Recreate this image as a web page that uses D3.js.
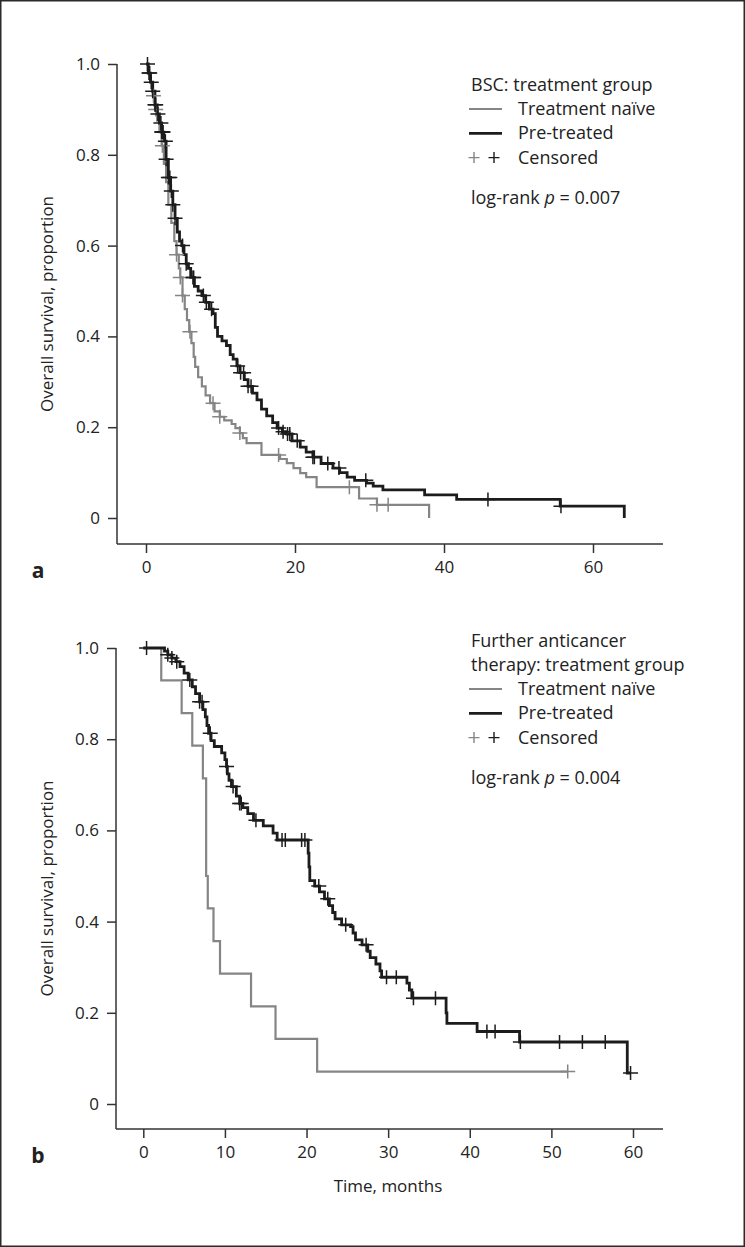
<!DOCTYPE html>
<html><head><meta charset="utf-8">
<script src="https://cdn.jsdelivr.net/npm/d3@7"></script>
<style>body{margin:0;background:#fff}svg{display:block}text{font-family:"Open Sans","Noto Sans",sans-serif;fill:#222}</style>
</head><body>
<script>
// ---------- DATA ----------
const yTicks = [0, 0.2, 0.4, 0.6, 0.8, 1.0];
const yTickLabels = ["0", "0.2", "0.4", "0.6", "0.8", "1.0"];
const aXTicks = [0, 20, 40, 60];
const bXTicks = [0, 10, 20, 30, 40, 50, 60];

// Panel a: BSC
const aNaiveCurve = [[0,1],[0.3,0.98],[0.6,0.96],[0.9,0.93],[1.2,0.9],[1.5,0.875],[1.8,0.85],[2.1,0.82],[2.4,0.78],[2.7,0.74],[3.0,0.69],[3.4,0.65],[3.8,0.61],[4.1,0.58],[4.4,0.55],[4.6,0.53],[4.9,0.49],[5.2,0.46],[5.5,0.436],[5.8,0.41],[6.1,0.385],[6.4,0.355],[6.6,0.333],[7.0,0.31],[7.5,0.29],[8.0,0.27],[8.6,0.253],[9.2,0.235],[9.9,0.223],[10.5,0.215],[11.5,0.207],[12.0,0.198],[12.6,0.187],[13.0,0.176],[13.5,0.165],[15.5,0.139],[18.0,0.13],[18.9,0.121],[19.8,0.11],[20.7,0.099],[21.5,0.09],[22.9,0.068],[28.6,0.043],[31.0,0.029],[38.0,0]];
const aNaiveCensor = [1.0,1.3,2.2,4.1,4.6,4.9,5.9,9.0,9.9,12.6,17.8,27.3,31.0,32.5];
const aPreCurve = [[0,1],[0.3,0.98],[0.6,0.96],[0.9,0.94],[1.2,0.91],[1.5,0.89],[1.8,0.87],[2.1,0.85],[2.4,0.83],[2.7,0.79],[3.0,0.75],[3.3,0.72],[3.6,0.69],[3.9,0.66],[4.2,0.63],[4.5,0.61],[4.8,0.6],[5.1,0.58],[5.4,0.56],[5.7,0.55],[6.0,0.53],[6.5,0.51],[7.0,0.5],[7.5,0.49],[8.0,0.475],[8.5,0.46],[9.0,0.45],[9.3,0.42],[9.6,0.4],[10.2,0.39],[10.8,0.38],[11.3,0.36],[11.7,0.35],[12.2,0.335],[12.6,0.32],[13.2,0.305],[13.7,0.29],[14.3,0.275],[14.9,0.26],[15.5,0.24],[16.2,0.225],[17.0,0.21],[17.6,0.198],[18.3,0.19],[18.9,0.185],[19.6,0.17],[20.7,0.156],[21.5,0.145],[22.4,0.134],[23.5,0.12],[25.1,0.11],[26.0,0.1],[27.0,0.09],[28.0,0.083],[29.6,0.077],[30.5,0.07],[31.8,0.062],[37.4,0.051],[41.7,0.041],[55.6,0.026],[64.2,0]];
const aPreCensor = [0.2,0.4,0.5,0.7,0.9,1.2,1.3,1.6,2.0,2.1,2.2,2.3,2.6,2.7,3.0,3.2,3.4,3.6,3.9,4.9,5.4,6.3,6.4,7.7,8.1,8.8,12.3,12.7,13.1,13.7,14.1,17.8,18.4,19.0,19.3,20.3,22.4,22.6,24.4,25.9,29.5,45.9,55.7];

// Panel b: Further anticancer therapy
const bNaiveCurve = [[0,1],[2.2,0.929],[4.7,0.857],[6.0,0.786],[7.3,0.714],[7.7,0.5],[7.9,0.429],[8.6,0.357],[9.4,0.286],[13.2,0.214],[16.2,0.143],[21.3,0.071],[52.0,0.071]];
const bNaiveCensor = [52.0];
const bPreCurve = [[0,1],[2.6,0.993],[3.0,0.985],[3.5,0.978],[4.0,0.97],[4.5,0.959],[5.0,0.945],[5.5,0.93],[6.0,0.915],[6.4,0.9],[6.9,0.882],[7.3,0.865],[7.6,0.849],[7.8,0.83],[8.0,0.813],[8.3,0.797],[8.7,0.784],[9.6,0.77],[10.0,0.755],[10.2,0.74],[10.3,0.724],[10.5,0.71],[10.8,0.696],[11.4,0.675],[11.8,0.659],[12.2,0.65],[12.8,0.637],[13.5,0.622],[14.7,0.61],[15.9,0.594],[16.4,0.579],[20.2,0.55],[20.3,0.52],[20.4,0.49],[21.0,0.478],[21.6,0.465],[22.2,0.45],[22.8,0.435],[23.2,0.42],[23.5,0.406],[24.3,0.393],[25.4,0.389],[25.7,0.375],[26.0,0.36],[26.8,0.349],[27.5,0.335],[27.8,0.321],[28.5,0.307],[29.0,0.292],[29.2,0.278],[32.3,0.265],[32.6,0.25],[32.9,0.232],[37.1,0.2],[37.2,0.177],[40.9,0.159],[46.1,0.136],[59.3,0.068],[59.7,0.068]];
const bPreCensor = [0.4,3.0,3.5,4.1,5.7,6.9,7.2,8.2,10.2,11.0,11.8,12.0,13.8,17.0,17.4,19.4,19.8,21.5,22.6,24.8,27.3,29.8,31.0,33.1,35.8,42.1,43.1,46.2,51.0,53.8,56.6,59.7];

const legendA = ["BSC: treatment group"];
const legendB = ["Further anticancer", "therapy: treatment group"];
const seriesNames = ["Treatment naïve", "Pre-treated", "Censored"];
const pA = "0.007", pB = "0.004";

// ---------- DRAW ----------
const W = 745, H = 1247;
const GRAY = "#858585", BLACK = "#1c1c1c", AX = "#333";
const svg = d3.select("body").append("svg").attr("width", W).attr("height", H);
svg.append("rect").attr("x",0.75).attr("y",0.75).attr("width",W-1.5).attr("height",H-1.5)
  .attr("fill","#fff").attr("stroke","#2a2a2a").attr("stroke-width",1.5);

function survAt(curve, t) {
  let s = curve[0][1];
  for (const p of curve) { if (p[0] <= t) s = p[1]; else break; }
  return s;
}

function panel(cfg) {
  const x = d3.scaleLinear().domain([0, 60]).range(cfg.xr);
  const y = d3.scaleLinear().domain([0, 1]).range(cfg.yr);
  const g = svg.append("g");
  // y axis
  const ya = g.append("g").attr("transform", `translate(${cfg.ax},0)`)
    .call(d3.axisLeft(y).tickValues(yTicks).tickFormat((d,i)=>yTickLabels[i]).tickSize(9).tickPadding(8));
  ya.select(".domain").remove();
  g.append("line").attr("x1",cfg.ax).attr("x2",cfg.ax).attr("y1",y(1)).attr("y2",cfg.ay).attr("stroke",AX).attr("stroke-width",1.5);
  // x axis
  const xa = g.append("g").attr("transform", `translate(0,${cfg.ay})`)
    .call(d3.axisBottom(x).tickValues(cfg.xt).tickFormat(d3.format("d")).tickSize(9).tickPadding(8));
  xa.select(".domain").remove();
  g.append("line").attr("x1",cfg.ax).attr("x2",663).attr("y1",cfg.ay).attr("y2",cfg.ay).attr("stroke",AX).attr("stroke-width",1.5);
  g.selectAll(".tick line").attr("stroke",AX).attr("stroke-width",1.5);
  g.selectAll(".tick text").attr("font-size",17).attr("fill","#222").attr("font-family",'"Open Sans","Noto Sans",sans-serif');
  // y title
  g.append("text").attr("transform",`translate(53,${(y(1)+cfg.ay)/2}) rotate(-90)`).attr("text-anchor","middle")
    .attr("font-size",17).text("Overall survival, proportion");
  // panel letter
  g.append("text").attr("x",38).attr("y",cfg.ay+34).attr("text-anchor","middle").attr("font-size",21).attr("font-weight","bold").text(cfg.letter);
  const line = d3.line().x(d=>x(d[0])).y(d=>y(d[1])).curve(d3.curveStepAfter);
  const series = [[cfg.naive, cfg.naiveC, GRAY, 2.2], [cfg.pre, cfg.preC, BLACK, 2.8]];
  series.forEach(([curve, cens, col, w]) => {
    g.append("path").attr("d", line(curve)).attr("fill","none").attr("stroke",col).attr("stroke-width",w);
  });
  series.forEach(([curve, cens, col]) => {
    g.selectAll(null).data(cens).enter().append("path")
      .attr("d", t => { const cx = x(t), cy = y(survAt(curve, t)); return `M${cx-7.5},${cy}H${cx+7.5}M${cx},${cy-7}V${cy+7}`; })
      .attr("stroke", col).attr("stroke-width", 1.5).attr("fill","none");
  });
  // legend
  const lx = 471;
  let yy = cfg.ly;
  cfg.title.forEach(t => { g.append("text").attr("x",lx).attr("y",yy).attr("font-size",18).text(t); yy += 24; });
  const rows = [[GRAY, "line"], [BLACK, "line"], [null, "cens"]];
  rows.forEach((r, i) => {
    const by = yy;
    if (r[1] === "line") {
      g.append("line").attr("x1",lx-2).attr("x2",lx+31).attr("y1",by-6).attr("y2",by-6).attr("stroke",r[0]).attr("stroke-width",i===0?2.2:2.8);
    } else {
      [[lx+3, GRAY],[lx+23, BLACK]].forEach(([cx,col]) => {
        g.append("path").attr("d",`M${cx-5.5},${by-6}H${cx+5.5}M${cx},${by-11.5}V${by-0.5}`).attr("stroke",col).attr("stroke-width",1.4);
      });
    }
    g.append("text").attr("x",lx+47).attr("y",by).attr("font-size",18).text(seriesNames[i]);
    yy += 24.3;
  });
  const pt = g.append("text").attr("x",lx).attr("y",yy+16).attr("font-size",18);
  pt.append("tspan").text("log-rank ");
  pt.append("tspan").attr("font-style","italic").text("p");
  pt.append("tspan").text(" = " + cfg.p);
  if (cfg.xlabel) g.append("text").attr("x",388).attr("y",cfg.ay+63).attr("text-anchor","middle").attr("font-size",17).text(cfg.xlabel);
}

panel({xr:[146,593], yr:[518,64], ax:117, ay:544, xt:aXTicks, letter:"a",
  naive:aNaiveCurve, naiveC:aNaiveCensor, pre:aPreCurve, preC:aPreCensor, title:legendA, ly:91, p:pA});
panel({xr:[143.3,633], yr:[1104,648], ax:116, ay:1129, xt:bXTicks, letter:"b",
  naive:bNaiveCurve, naiveC:bNaiveCensor, pre:bPreCurve, preC:bPreCensor, title:legendB, ly:647, p:pB, xlabel:"Time, months"});
</script>
</body></html>
